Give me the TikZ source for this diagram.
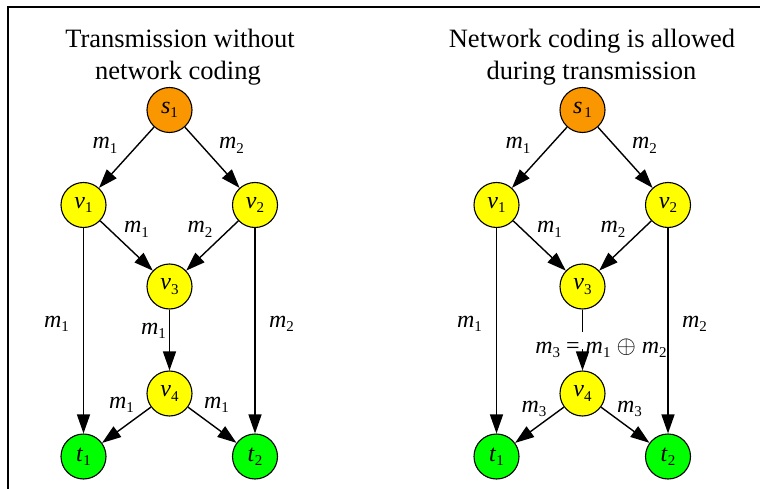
\documentclass[tikz,border=0pt]{standalone}
\usepackage{fontspec}
\setmainfont{Liberation Serif}
\usetikzlibrary{arrows.meta}
\definecolor{srcorange}{RGB}{250,150,0}
\definecolor{relayyellow}{RGB}{255,255,0}
\definecolor{sinkgreen}{RGB}{0,255,0}
% italic symbol with a lowered upright index
\newcommand\sym[2]{\textit{#1}\raisebox{-4.5pt}{\fontsize{15}{15}\selectfont #2}}
\begin{document}
\begin{tikzpicture}[x=1pt,y=-1pt,
  vertex/.style={circle,draw=black,line width=1.1pt,minimum size=45pt,inner sep=0pt,
    font=\fontsize{24}{24}\selectfont},
  src/.style={vertex,fill=srcorange},
  relay/.style={vertex,fill=relayyellow},
  sink/.style={vertex,fill=sinkgreen},
  link/.style={line width=1.4pt},
  flow/.style={link,-{Triangle[length=19pt,width=13pt]}},
  lbl/.style={anchor=base,inner sep=0pt,font=\fontsize{24}{24}\selectfont},
  heading/.style={anchor=base,inner sep=0pt,font=\fontsize{26.5}{26.5}\selectfont}]
\useasboundingbox (0,0) rectangle (760,489);
\draw[line width=1.4pt] (760,7) -- (8,7) -- (8,489);

% ---------- left network: plain routing ----------
\node[heading] (LT1) at (180,47.7) {Transmission without};
\node[heading] (LT2) at (178,80) {network coding};
\node[src]   (Ls)  at (169.5,110)   {\sym{s}{1}};
\node[relay] (Lv1) at (83.5,205)    {\sym{v}{1}};
\node[relay] (Lv2) at (255,205)     {\sym{v}{2}};
\node[relay] (Lv3) at (169.5,286.5) {\sym{v}{3}};
\node[relay] (Lv4) at (169.5,393.5) {\sym{v}{4}};
\node[sink]  (Lt1) at (83.5,456.5)  {\sym{t}{1}};
\node[sink]  (Lt2) at (255,456.5)   {\sym{t}{2}};
\draw[flow] (Ls) -- (Lv1);
\draw[flow] (Ls) -- (Lv2);
\draw[flow] (Lv1) -- (Lv3);
\draw[flow] (Lv2) -- (Lv3);
\draw[flow] (Lv1) -- (Lt1);
\draw[flow] (Lv2) -- (Lt2);
\draw[flow] (Lv3) -- (Lv4);
\draw[flow] (Lv4) -- (Lt1);
\draw[flow] (Lv4) -- (Lt2);
\node[lbl] (La) at (105,149)   {\sym{m}{1}};
\node[lbl] (Lb) at (231.5,149) {\sym{m}{2}};
\node[lbl] (Lc) at (136.5,233) {\sym{m}{1}};
\node[lbl] (Ld) at (200,233)   {\sym{m}{2}};
\node[lbl] (Le) at (56.5,327)  {\sym{m}{1}};
\node[lbl] (Lf) at (281.5,327) {\sym{m}{2}};
\node[lbl] (Lg) at (153.5,334) {\sym{m}{1}};
\node[lbl] (Lh) at (121.5,408) {\sym{m}{1}};
\node[lbl] (Li) at (216.5,408) {\sym{m}{1}};

% ---------- right network: coding at v3 ----------
\node[heading] (RT1) at (592,47.7) {Network coding is allowed};
\node[heading] (RT2) at (591.5,80) {during transmission};
\node[src]   (Rs)  at (582.5,110)   {\textit{s}\kern2pt\raisebox{-4.5pt}{\fontsize{15}{15}\selectfont 1}};
\node[relay] (Rv1) at (496.5,205)   {\sym{v}{1}};
\node[relay] (Rv2) at (668,205)     {\sym{v}{2}};
\node[relay] (Rv3) at (582.5,286.5) {\sym{v}{3}};
\node[relay] (Rv4) at (582.5,393.5) {\sym{v}{4}};
\node[sink]  (Rt1) at (496.5,456.5) {\sym{t}{1}};
\node[sink]  (Rt2) at (668,456.5)   {\sym{t}{2}};
\draw[flow] (Rs) -- (Rv1);
\draw[flow] (Rs) -- (Rv2);
\draw[flow] (Rv1) -- (Rv3);
\draw[flow] (Rv2) -- (Rv3);
\draw[flow] (Rv1) -- (Rt1);
\draw[flow] (Rv2) -- (Rt2);
\draw[flow] (Rv4) -- (Rt1);
\draw[flow] (Rv4) -- (Rt2);
\node[lbl] (Ra) at (518,149)   {\sym{m}{1}};
\node[lbl] (Rb) at (644.5,149) {\sym{m}{2}};
\node[lbl] (Rc) at (549.5,233) {\sym{m}{1}};
\node[lbl] (Rd) at (613,233)   {\sym{m}{2}};
\node[lbl] (Re) at (469.5,327) {\sym{m}{1}};
\node[lbl] (Rf) at (694.5,327) {\sym{m}{2}};
\node[lbl] (Rh) at (534,412)   {\sym{m}{3}};
\node[lbl] (Ri) at (629.5,412) {\sym{m}{3}};
% coded edge v3 -> v4, broken by its label
\node[lbl] (Rg) at (601,353) {\sym{m}{3} = \sym{m}{1} $\oplus$ \sym{m}{2}};
\coordinate (Rcut) at (582.5,332);
\coordinate (Rresume) at (582.5,349);
\draw[link] (Rv3) -- (Rcut);
\draw[flow] (Rresume) -- (Rv4);
\end{tikzpicture}
\end{document}
